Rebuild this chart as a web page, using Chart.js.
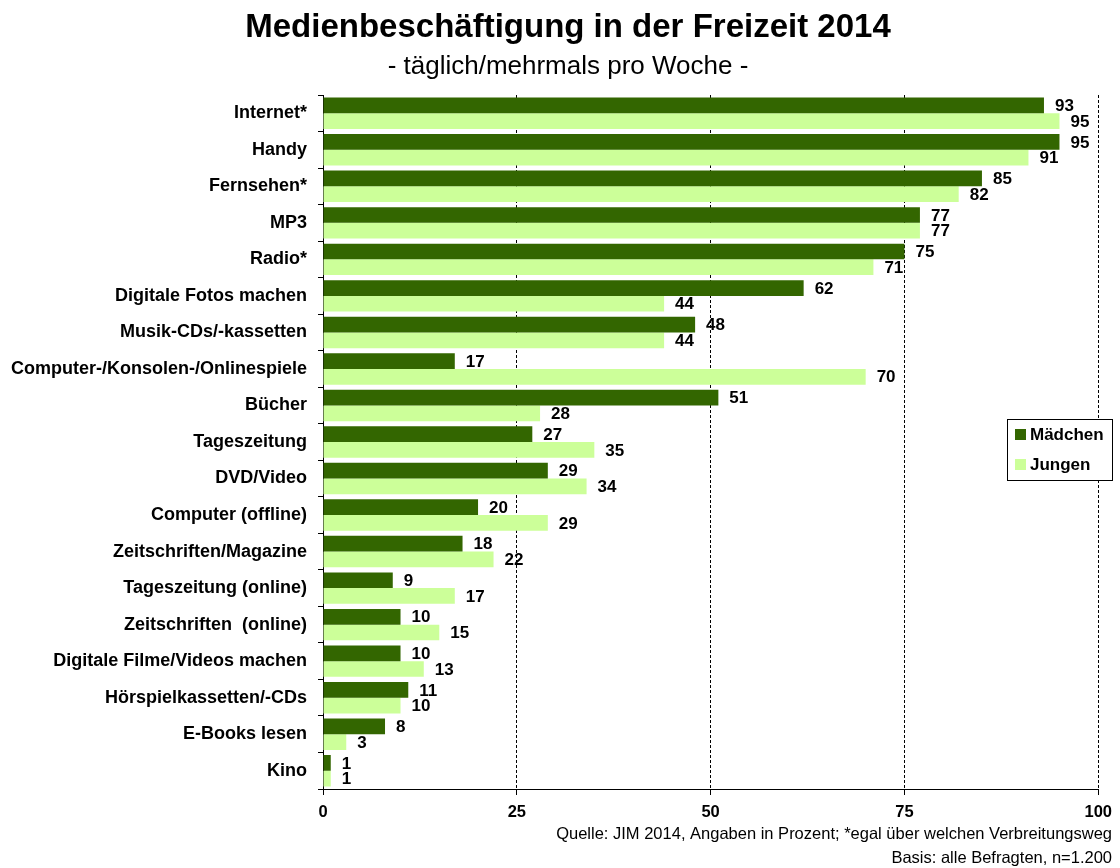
<!DOCTYPE html>
<html>
<head>
<meta charset="utf-8">
<script src="https://cdn.jsdelivr.net/npm/chart.js@4.4.1/dist/chart.umd.min.js"></script>
<style>
  html, body { margin: 0; padding: 0; background: #fff; }
  #wrap { width: 1120px; height: 868px; position: relative; }
</style>
</head>
<body>
<div id="wrap"><canvas id="c"></canvas></div>
<script>
const categories = ["Internet*", "Handy", "Fernsehen*", "MP3", "Radio*", "Digitale Fotos machen",
  "Musik-CDs/-kassetten", "Computer-/Konsolen-/Onlinespiele", "Bücher", "Tageszeitung",
  "DVD/Video", "Computer (offline)", "Zeitschriften/Magazine", "Tageszeitung (online)",
  "Zeitschriften  (online)", "Digitale Filme/Videos machen", "Hörspielkassetten/-CDs",
  "E-Books lesen", "Kino"];
const maedchen = [93, 95, 85, 77, 75, 62, 48, 17, 51, 27, 29, 20, 18, 9, 10, 10, 11, 8, 1];
const jungen   = [95, 91, 82, 77, 71, 44, 44, 70, 28, 35, 34, 29, 22, 17, 15, 13, 10, 3, 1];
const xTicks = [0, 25, 50, 75, 100];
const titleText = "Medienbeschäftigung in der Freizeit 2014";
const subtitleText = "- täglich/mehrmals pro Woche -";
const footerLines = ["Quelle: JIM 2014, Angaben in Prozent; *egal über welchen Verbreitungsweg",
  "Basis: alle Befragten, n=1.200"];

const FONT = "'Liberation Sans', Arial, sans-serif";

const valueLabels = {
  id: 'valueLabels',
  afterDatasetsDraw(chart) {
    const ctx = chart.ctx;
    ctx.save();
    ctx.font = "bold 17px " + FONT;
    ctx.fillStyle = "#000";
    ctx.textAlign = "left";
    ctx.textBaseline = "middle";
    chart.data.datasets.forEach((ds, di) => {
      const meta = chart.getDatasetMeta(di);
      meta.data.forEach((el, i) => {
        ctx.fillText(String(ds.data[i]), el.x + 11, el.y + 1);
      });
    });
    ctx.restore();
  }
};

const headings = {
  id: 'headings',
  afterDraw(chart) {
    const ctx = chart.ctx;
    ctx.save();
    ctx.fillStyle = "#000";
    ctx.textAlign = "center";
    ctx.textBaseline = "middle";
    ctx.font = "bold 33px " + FONT;
    ctx.fillText(titleText, 568, 28);
    ctx.font = "26px " + FONT;
    ctx.fillText(subtitleText, 568, 67);
    ctx.restore();
  }
};

const customLegend = {
  id: 'customLegend',
  afterDraw(chart) {
    const ctx = chart.ctx;
    ctx.save();
    const bx = 1007, by = 419, bw = 105, bh = 61;
    ctx.fillStyle = "#fff";
    ctx.fillRect(bx, by, bw, bh);
    ctx.strokeStyle = "#000";
    ctx.lineWidth = 1;
    ctx.strokeRect(bx + 0.5, by + 0.5, bw, bh);
    ctx.font = "bold 17px " + FONT;
    ctx.textBaseline = "middle";
    ctx.textAlign = "left";
    chart.data.datasets.forEach((ds, i) => {
      const cy = by + 15 + i * 30;
      ctx.fillStyle = ds.backgroundColor;
      ctx.fillRect(bx + 8, cy - 5, 11, 11);
      ctx.fillStyle = "#000";
      ctx.fillText(ds.label, bx + 23, cy + 1);
    });
    ctx.restore();
  }
};

const footer = {
  id: 'footer',
  afterDraw(chart) {
    const ctx = chart.ctx;
    ctx.save();
    ctx.font = "16.5px " + FONT;
    ctx.fillStyle = "#000";
    ctx.textAlign = "right";
    ctx.textBaseline = "middle";
    ctx.fillText(footerLines[0], 1112, 834);
    ctx.fillText(footerLines[1], 1112, 858);
    ctx.restore();
  }
};

new Chart(document.getElementById('c'), {
  type: 'bar',
  data: {
    labels: categories,
    datasets: [
      { label: "Mädchen", data: maedchen, backgroundColor: "#336600", borderWidth: 0,
        categoryPercentage: 0.86, barPercentage: 1.0 },
      { label: "Jungen", data: jungen, backgroundColor: "#CCFF99", borderWidth: 0,
        categoryPercentage: 0.86, barPercentage: 1.0 }
    ]
  },
  options: {
    indexAxis: 'y',
    responsive: true,
    maintainAspectRatio: false,
    animation: false,
    layout: { padding: { left: 0, right: 21, top: 95, bottom: 49 } },
    plugins: {
      legend: { display: false },
      tooltip: { enabled: false },
      title: { display: false },
      subtitle: { display: false }
    },
    scales: {
      x: {
        min: 0, max: 100,
        afterBuildTicks(scale) { scale.ticks = xTicks.map(v => ({ value: v })); },
        afterFit(scale) { scale.height = 30; },
        ticks: { color: "#000", font: { family: FONT, size: 16.5, weight: 'bold' }, padding: 8 },
        grid: { color: "#000", lineWidth: 1, tickLength: 6, drawOnChartArea: true, tickBorderDash: [] },
        border: { display: true, color: "#000", width: 1, dash: [3, 2] }
      },
      y: {
        afterFit(scale) { scale.width = 323; },
        ticks: { color: "#000", font: { family: FONT, size: 18, weight: 'bold' }, padding: 11, autoSkip: false },
        grid: { drawOnChartArea: false, drawTicks: true, tickLength: 5, color: "#000", offset: true },
        border: { display: true, color: "#000", width: 1 }
      }
    }
  },
  plugins: [valueLabels, headings, customLegend, footer]
});
</script>
</body>
</html>
